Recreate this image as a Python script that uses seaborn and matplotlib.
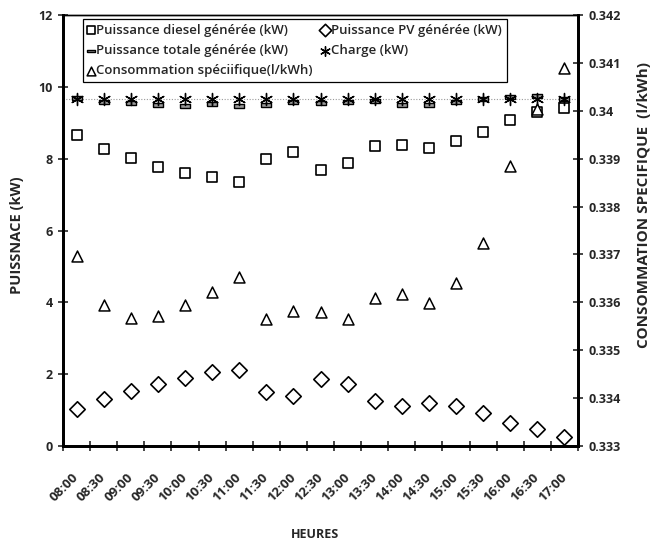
import numpy as np
import pandas as pd
import seaborn as sns
import matplotlib.pyplot as plt
from matplotlib.ticker import FixedLocator, FuncFormatter, MultipleLocator

heures = ["08:00", "08:30", "09:00", "09:30", "10:00", "10:30", "11:00", "11:30",
          "12:00", "12:30", "13:00", "13:30", "14:00", "14:30", "15:00", "15:30",
          "16:00", "16:30", "17:00"]
diesel = [8.66, 8.27, 8.02, 7.78, 7.60, 7.48, 7.36, 7.99, 8.19, 7.68,
          7.87, 8.34, 8.38, 8.30, 8.48, 8.73, 9.07, 9.29, 9.41]
pv = [1.02, 1.31, 1.53, 1.72, 1.88, 2.05, 2.11, 1.51, 1.40, 1.86,
      1.72, 1.26, 1.11, 1.19, 1.11, 0.93, 0.65, 0.46, 0.26]
totale = [9.68, 9.58, 9.55, 9.50, 9.48, 9.53, 9.47, 9.50, 9.59, 9.54,
          9.59, 9.60, 9.49, 9.49, 9.59, 9.66, 9.72, 9.75, 9.67]
charge = [9.67, 9.67, 9.67, 9.67, 9.67, 9.67, 9.67, 9.67, 9.67, 9.67,
          9.67, 9.67, 9.67, 9.67, 9.67, 9.67, 9.67, 9.67, 9.67]
conso = [0.33697, 0.33594, 0.33567, 0.33571, 0.33594, 0.33621, 0.33652, 0.33565,
         0.33582, 0.33580, 0.33565, 0.33610, 0.33617, 0.33599, 0.33641, 0.33724,
         0.33885, 0.34003, 0.34089]

df = pd.DataFrame({"heure": heures, "diesel": diesel, "pv": pv,
                   "totale": totale, "charge": charge, "conso": conso})

sns.set_style("white")
plt.rcParams["font.family"] = ["Open Sans", "DejaVu Sans"]
plt.rcParams["font.weight"] = "bold"

fig = plt.figure(figsize=(6.64, 5.42), dpi=100)
ax = fig.add_axes([0.0949, 0.1771, 0.7756, 0.7952])
ax2 = ax.twinx()

# ligne pointillée au niveau de la charge
ax.axhline(np.mean(charge), color="#9a9a9a", lw=0.8, ls=(0, (1, 1.5)), zorder=1)

# marqueur "tiret" rectangulaire façon Excel
dash = [(-1, -0.28), (1, -0.28), (1, 0.28), (-1, 0.28), (-1, -0.28)]

sns.scatterplot(data=df, x="heure", y="diesel", ax=ax, marker="s", s=60,
                facecolor="white", edgecolor="black", linewidth=1.2,
                label="Puissance diesel générée (kW)", legend=False, zorder=3)
sns.scatterplot(data=df, x="heure", y="pv", ax=ax, marker="D", s=62,
                facecolor="white", edgecolor="black", linewidth=1.2,
                label="Puissance PV générée (kW)", legend=False, zorder=3)
sns.scatterplot(data=df, x="heure", y="totale", ax=ax, marker=dash, s=60,
                facecolor="#9a9a9a", edgecolor="black", linewidth=1.0,
                label="Puissance totale générée (kW)", legend=False, zorder=3)
sns.scatterplot(data=df, x="heure", y="charge", ax=ax, marker=(6, 2, 0), s=75,
                color="black", linewidth=1.0,
                label="Charge (kW)", legend=False, zorder=4)
sns.scatterplot(data=df, x="heure", y="conso", ax=ax2, marker="^", s=62,
                facecolor="white", edgecolor="black", linewidth=1.1,
                label="Consommation spéciifique(l/kWh)", legend=False, zorder=3)

n = len(heures)
ax.set_xlim(-0.5, n - 0.5)
ax.set_ylim(0, 12)
ax.yaxis.set_major_locator(MultipleLocator(2))
ax2.set_ylim(0.333, 0.342)
ax2.yaxis.set_major_locator(FixedLocator(np.round(np.arange(0.333, 0.3425, 0.001), 3)))
ax2.yaxis.set_major_formatter(FuncFormatter(lambda v, p: f"{v:g}"))

ax.xaxis.set_minor_locator(FixedLocator(np.arange(-0.5, n, 1)))
ax.tick_params(axis="x", which="major", length=0, pad=21, labelsize=9.5,
               labelrotation=45)
ax.tick_params(axis="x", which="minor", length=7, width=1.2, direction="inout", bottom=True)
ax.tick_params(axis="y", length=7, width=1.2, direction="inout", left=True, pad=4,
               labelsize=9)
ax2.tick_params(axis="y", length=7, width=1.2, direction="inout", right=True, pad=4,
                labelsize=9)

for lab in ax.get_xticklabels():
    lab.set_ha("right")
    lab.set_va("center")
    lab.set_rotation_mode("anchor")

for a in (ax, ax2):
    for side in ("left", "right", "bottom"):
        a.spines[side].set_linewidth(2)
        a.spines[side].set_color("black")
    a.spines["top"].set_linewidth(1)
    a.spines["top"].set_color("black")

ax.set_xlabel("HEURES", fontsize=9, fontweight="bold")
ax.xaxis.set_label_coords(0.49, -0.19)
ax.set_ylabel("PUISSNACE (kW)", fontsize=10.5, fontweight="bold")
ax.yaxis.set_label_coords(-0.075, 0.49)
ax2.set_ylabel("CONSOMMATION SPECIFIQUE  (l/kWh)", fontsize=11, fontweight="bold",
               rotation=90)
ax2.yaxis.set_label_coords(1.115, 0.56)

h1, l1 = ax.get_legend_handles_labels()
h2, l2 = ax2.get_legend_handles_labels()
handles = h1 + h2
labels = l1 + l2
order = [0, 2, 4, 1, 3]
leg = ax2.legend([handles[i] for i in order], [labels[i] for i in order],
                 ncol=2, loc="upper left", bbox_to_anchor=(0.038, 0.99),
                 frameon=True, fancybox=False, edgecolor="black", framealpha=1,
                 handlelength=0.5, handletextpad=0.2, columnspacing=0.7,
                 labelspacing=0.55, borderpad=0.35, borderaxespad=0, markerscale=0.8,
                 prop={"size": 9.5, "weight": "semibold"})
leg.get_frame().set_linewidth(0.9)

fig.savefig("out.png", dpi=100)
